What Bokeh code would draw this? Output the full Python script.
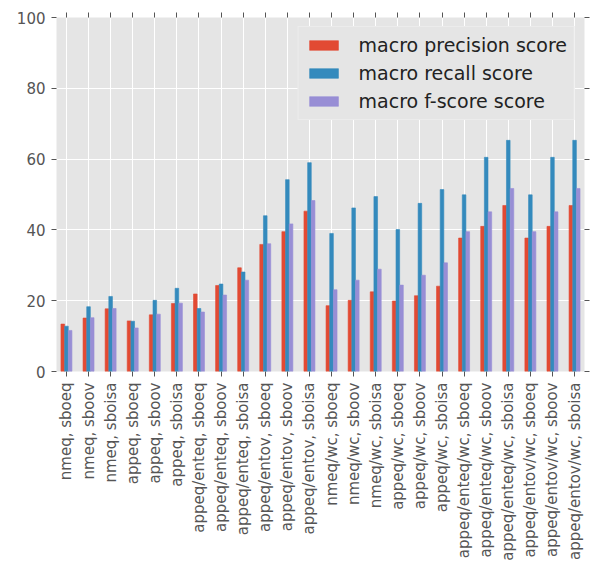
import math
from bokeh.plotting import figure
from bokeh.models import (Range1d, FixedTicker, LinearAxis, ColumnDataSource,
                          Legend, LegendItem)
from bokeh.embed import file_html
from bokeh.resources import INLINE

categories = [
    "nmeq, sboeq", "nmeq, sboov", "nmeq, sboisa",
    "appeq, sboeq", "appeq, sboov", "appeq, sboisa",
    "appeq/enteq, sboeq", "appeq/enteq, sboov", "appeq/enteq, sboisa",
    "appeq/entov, sboeq", "appeq/entov, sboov", "appeq/entov, sboisa",
    "nmeq/wc, sboeq", "nmeq/wc, sboov", "nmeq/wc, sboisa",
    "appeq/wc, sboeq", "appeq/wc, sboov", "appeq/wc, sboisa",
    "appeq/enteq/wc, sboeq", "appeq/enteq/wc, sboov", "appeq/enteq/wc, sboisa",
    "appeq/entov/wc, sboeq", "appeq/entov/wc, sboov", "appeq/entov/wc, sboisa",
]
precision = [13.4, 15.1, 17.7, 14.3, 16.0, 19.2, 21.9, 24.3, 29.3, 35.9, 39.5, 45.3,
             18.6, 20.1, 22.5, 19.9, 21.4, 24.1, 37.7, 41.0, 46.9, 37.7, 41.0, 46.9]
recall = [12.8, 18.3, 21.2, 14.2, 20.1, 23.5, 17.8, 24.7, 28.1, 44.0, 54.2, 59.0,
          39.0, 46.2, 49.4, 40.1, 47.5, 51.4, 49.9, 60.5, 65.3, 49.9, 60.5, 65.3]
fscore = [11.6, 15.2, 17.8, 12.3, 16.2, 19.3, 16.8, 21.6, 25.8, 36.1, 41.7, 48.3,
          23.1, 25.8, 28.9, 24.4, 27.2, 30.7, 39.5, 45.1, 51.7, 39.5, 45.1, 51.7]
series_names = ["macro precision score", "macro recall score", "macro f-score score"]
colors = ["#E24A33", "#348ABD", "#988ED5"]
y_ticks = [0, 20, 40, 60, 80, 100]

FONT = "DejaVu Sans"
TICK_COLOR = "#555555"

idx = list(range(len(categories)))
bar_w = 0.5 / 3

p = figure(width=591, height=571, output_backend="svg", toolbar_location=None,
           x_range=Range1d(-0.45, len(categories) - 0.55), y_range=Range1d(0, 100),
           min_border_left=56, min_border_right=7, min_border_top=17,
           min_border_bottom=200)
p.background_fill_color = "#E5E5E5"
p.border_fill_color = "white"
p.outline_line_color = None

renderers = []
for k, (vals, col) in enumerate(zip([precision, recall, fscore], colors)):
    src = ColumnDataSource(dict(x=[i + (k - 1) * bar_w for i in idx], top=vals))
    r = p.vbar(x="x", top="top", bottom=0, width=bar_w * 0.98, source=src,
               fill_color=col, line_color=col, line_alpha=0.6)
    renderers.append(r)

# grids
p.xgrid.ticker = FixedTicker(ticks=idx)
p.ygrid.ticker = FixedTicker(ticks=y_ticks)
for g in (p.xgrid[0], p.ygrid[0]):
    g.grid_line_color = "white"
    g.grid_line_width = 1

def style_axis(ax):
    ax.axis_line_color = None
    ax.major_tick_line_color = TICK_COLOR
    ax.major_tick_in = 0
    ax.major_tick_out = 5
    ax.minor_tick_line_color = None
    ax.major_label_text_font = FONT
    ax.major_label_text_color = TICK_COLOR
    ax.major_label_text_font_size = "15px"

xa = p.xaxis[0]
xa.ticker = FixedTicker(ticks=idx)
xa.major_label_overrides = {i: c for i, c in enumerate(categories)}
xa.major_label_orientation = math.pi / 2
style_axis(xa)
xa.major_label_standoff = 6

ya = p.yaxis[0]
ya.ticker = FixedTicker(ticks=y_ticks)
style_axis(ya)
ya.major_label_standoff = 6

# tick marks on the top and right edges, without labels
top_ax = LinearAxis(ticker=FixedTicker(ticks=idx))
style_axis(top_ax)
top_ax.major_label_overrides = {i: "" for i in idx}
top_ax.major_label_standoff = 0
p.add_layout(top_ax, "above")
right_ax = LinearAxis(ticker=FixedTicker(ticks=y_ticks))
style_axis(right_ax)
right_ax.major_label_overrides = {t: "" for t in y_ticks}
right_ax.major_label_standoff = 0
p.add_layout(right_ax, "right")

legend = Legend(items=[LegendItem(label=n, renderers=[r]) for n, r in zip(series_names, renderers)],
                location="top_right")
legend.margin = 9
legend.padding = 7
legend.spacing = 6
legend.glyph_width = 36
legend.glyph_height = 12
legend.label_height = 22
legend.label_standoff = 17
legend.label_text_font = FONT
legend.label_text_font_size = "19px"
legend.label_text_color = "#222222"
legend.background_fill_color = "#E5E5E5"
legend.background_fill_alpha = 1
legend.border_line_color = "#F4F4F4"
legend.border_line_width = 1
p.add_layout(legend, "center")

open("out.html", "w").write(file_html(p, INLINE))
